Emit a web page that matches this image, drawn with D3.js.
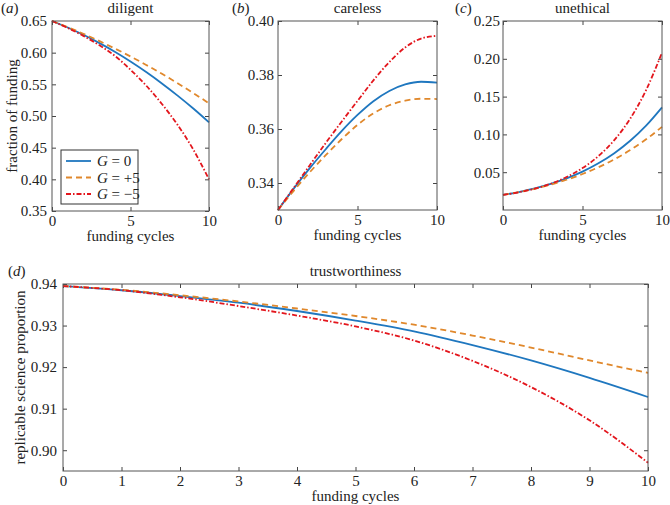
<!DOCTYPE html>
<html>
<head>
<meta charset="utf-8">
<script src="https://cdn.jsdelivr.net/npm/d3@7"></script>
<style>
  body { margin: 0; background: #fff; }
  text { font-family: "Liberation Serif", "Times New Roman", serif; fill: #222; }
</style>
</head>
<body>
<svg id="chart" width="670" height="505"></svg>
<script>
// funding cycles (x for every panel)
const cycles = [0, 1, 2, 3, 4, 5, 6, 7, 8, 9, 10];
const seriesNames = ["G0", "Gp5", "Gm5"];
const legendLabels = [["G", " = 0"], ["G", " = +5"], ["G", " = \u22125"]];

// (a) diligent
const diligentG0  = [0.650, 0.6398, 0.6282, 0.6154, 0.6014, 0.5860, 0.5694, 0.5514, 0.5322, 0.5118, 0.4900];
const diligentGp5 = [0.650, 0.6402, 0.6298, 0.6186, 0.6066, 0.5940, 0.5806, 0.5666, 0.5518, 0.5362, 0.5200];
const diligentGm5 = [0.650, 0.6390, 0.6265, 0.6120, 0.5950, 0.5730, 0.5480, 0.5190, 0.4860, 0.4470, 0.4000];

// (b) careless
const carelessG0  = [0.330, 0.3380, 0.3455, 0.3525, 0.3592, 0.3652, 0.3703, 0.3741, 0.3765, 0.3775, 0.3772];
const carelessGp5 = [0.330, 0.3372, 0.3440, 0.3503, 0.3562, 0.3615, 0.3658, 0.3688, 0.3705, 0.3712, 0.3711];
const carelessGm5 = [0.330, 0.3383, 0.3466, 0.3548, 0.3627, 0.3704, 0.3780, 0.3848, 0.3902, 0.3935, 0.3945];

// (c) unethical
const unethicalG0  = [0.020, 0.0238, 0.0286, 0.0345, 0.0419, 0.0508, 0.0618, 0.0752, 0.0916, 0.1116, 0.1358];
const unethicalGp5 = [0.020, 0.0236, 0.0281, 0.0335, 0.0400, 0.0476, 0.0565, 0.0670, 0.0793, 0.0935, 0.1100];
const unethicalGm5 = [0.020, 0.0235, 0.0282, 0.0347, 0.0436, 0.0554, 0.0713, 0.0925, 0.1208, 0.1586, 0.2082];

// (d) trustworthiness
const trustG0  = [0.9395, 0.9385, 0.9371, 0.9355, 0.9335, 0.9312, 0.9286, 0.9253, 0.9216, 0.9174, 0.9128];
const trustGp5 = [0.9395, 0.9386, 0.9373, 0.9358, 0.9341, 0.9323, 0.9302, 0.9276, 0.9247, 0.9216, 0.9186];
const trustGm5 = [0.9395, 0.9385, 0.9368, 0.9347, 0.9324, 0.9298, 0.9264, 0.9215, 0.9152, 0.9072, 0.8970];

// tick labels
const ticksA = [0.35, 0.40, 0.45, 0.50, 0.55, 0.60, 0.65];
const ticksB = [0.34, 0.36, 0.38, 0.40];
const ticksC = [0.05, 0.10, 0.15, 0.20, 0.25];
const ticksD = [0.90, 0.91, 0.92, 0.93, 0.94];
const xTicksSmall = [0, 5, 10];
const xTicksWide = [0, 1, 2, 3, 4, 5, 6, 7, 8, 9, 10];

const FS = 15;

const styles = {
  G0:  { color: "#1f77bf", dash: null },
  Gp5: { color: "#e0882c", dash: "6,4" },
  Gm5: { color: "#e3161d", dash: "5,2,1.5,2" }
};

const svg = d3.select("#chart");

function drawPanel(p) {
  const g = svg.append("g");
  const x = d3.scaleLinear().domain([0, 10]).range([p.left, p.right]);
  const y = d3.scaleLinear().domain(p.yDomain).range([p.bottom, p.top]);
  const fmt = d3.format(p.yFormat);

  // axes, ticks pointing inwards (box style)
  const ax = (sel) => sel.call(s => s.select(".domain").remove())
    .call(s => s.selectAll("line").attr("stroke", "#444"))
    .call(s => s.selectAll("text").attr("font-size", FS).style("fill", "#222")
      .attr("font-family", "Liberation Serif, Times New Roman, serif"));

  g.append("g").attr("transform", `translate(0,${p.bottom})`)
    .call(d3.axisBottom(x).tickValues(p.xTicks).tickSizeInner(-4).tickSizeOuter(0).tickPadding(4)).call(ax);
  g.append("g").attr("transform", `translate(0,${p.top})`)
    .call(d3.axisTop(x).tickValues(p.xTicks).tickSizeInner(-4).tickSizeOuter(0).tickFormat("")).call(ax);
  g.append("g").attr("transform", `translate(${p.left},0)`)
    .call(d3.axisLeft(y).tickValues(p.yTicks).tickSizeInner(-4).tickSizeOuter(0).tickPadding(p.yPad).tickFormat(fmt)).call(ax);
  g.append("g").attr("transform", `translate(${p.right},0)`)
    .call(d3.axisRight(y).tickValues(p.yTicks).tickSizeInner(-4).tickSizeOuter(0).tickFormat("")).call(ax);

  const line = d3.line()
    .x((d, i) => x(cycles[i]))
    .y(d => y(d))
    .curve(d3.curveMonotoneX);

  seriesNames.forEach(name => {
    g.append("path")
      .datum(p.series[name])
      .attr("fill", "none")
      .attr("stroke", styles[name].color)
      .attr("stroke-width", 1.8)
      .attr("stroke-dasharray", styles[name].dash)
      .attr("d", line);
  });

  g.append("rect")
    .attr("x", p.left).attr("y", p.top)
    .attr("width", p.right - p.left).attr("height", p.bottom - p.top)
    .attr("fill", "none").attr("stroke", "#555").attr("stroke-width", 1);

  // title and panel letter
  g.append("text")
    .attr("x", (p.left + p.right) / 2).attr("y", p.top - 8)
    .attr("text-anchor", "middle").attr("font-size", FS)
    .text(p.title);

  const lab = g.append("text").attr("x", p.letterX).attr("y", p.top - 8).attr("font-size", FS);
  lab.append("tspan").text("(");
  lab.append("tspan").attr("font-style", "italic").text(p.letter);
  lab.append("tspan").text(")");

  g.append("text")
    .attr("x", (p.left + p.right) / 2).attr("y", p.bottom + 30)
    .attr("text-anchor", "middle").attr("font-size", FS)
    .text("funding cycles");

  if (p.yLabel) {
    g.append("text")
      .attr("transform", `translate(${p.yLabelX},${(p.top + p.bottom) / 2}) rotate(-90)`)
      .attr("text-anchor", "middle").attr("font-size", FS)
      .text(p.yLabel);
  }

  return { g, x, y };
}

drawPanel({
  left: 52, right: 209, top: 21, bottom: 211,
  yDomain: [0.35, 0.65], yTicks: ticksA, yFormat: ".2f", yPad: 5, xTicks: xTicksSmall,
  title: "diligent", letter: "a", letterX: 1,
  yLabel: "fraction of funding", yLabelX: 17,
  series: { G0: diligentG0, Gp5: diligentGp5, Gm5: diligentGm5 }
});

drawPanel({
  left: 278, right: 437, top: 21, bottom: 210,
  yDomain: [0.33, 0.40], yTicks: ticksB, yFormat: ".2f", yPad: 4, xTicks: xTicksSmall,
  title: "careless", letter: "b", letterX: 232,
  series: { G0: carelessG0, Gp5: carelessGp5, Gm5: carelessGm5 }
});

drawPanel({
  left: 503, right: 662, top: 21, bottom: 210,
  yDomain: [0, 0.25], yTicks: ticksC, yFormat: ".2f", yPad: 3, xTicks: xTicksSmall,
  title: "unethical", letter: "c", letterX: 455,
  series: { G0: unethicalG0, Gp5: unethicalGp5, Gm5: unethicalGm5 }
});

drawPanel({
  left: 63, right: 648, top: 284, bottom: 471,
  yDomain: [0.895, 0.94], yTicks: ticksD, yFormat: ".2f", yPad: 6, xTicks: xTicksWide,
  title: "trustworthiness", letter: "d", letterX: 8,
  yLabel: "replicable science proportion", yLabelX: 25,
  series: { G0: trustG0, Gp5: trustGp5, Gm5: trustGm5 }
});

// legend inside (a)
const leg = svg.append("g").attr("transform", "translate(61,150)");
leg.append("rect")
  .attr("width", 77).attr("height", 54)
  .attr("fill", "#fff").attr("stroke", "#333").attr("stroke-width", 1);
seriesNames.forEach((name, i) => {
  const row = leg.append("g").attr("transform", `translate(0,${11 + i * 16.5})`);
  row.append("line")
    .attr("x1", 5).attr("x2", 30)
    .attr("stroke", styles[name].color).attr("stroke-width", 1.8)
    .attr("stroke-dasharray", styles[name].dash);
  const t = row.append("text").attr("x", 36).attr("y", 5).attr("font-size", FS);
  t.append("tspan").attr("font-style", "italic").text(legendLabels[i][0]);
  t.append("tspan").text(legendLabels[i][1]);
});
</script>
</body>
</html>
